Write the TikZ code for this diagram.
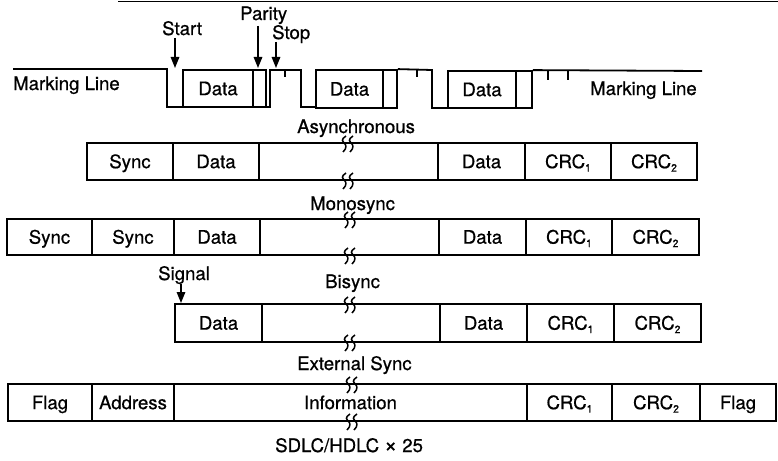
\documentclass[tikz,border=0pt]{standalone}
\usepackage{fontspec}
\setmainfont{TeX Gyre Heros}[FakeBold=0.7]
\usetikzlibrary{arrows.meta}
\newcommand\sub[1]{\raisebox{-0.35ex}{\fontsize{10.5}{10.5}\selectfont #1}}
\newcommand\cellnode[6]{%
  \pgfmathsetmacro\cwd{#3-#2}\pgfmathsetmacro\cht{#5-#4}%
  \node[cellbox,minimum width=\cwd pt,minimum height=\cht pt] (#1) at ({(#2+#3)/2},{(#4+#5)/2}) {#6};}
\tikzset{
  brk/.pic={
    \draw[line width=1.5pt] (-2,-7) .. controls (-7,-4) and (-6,-1) .. (-4,0) .. controls (-2,1) and (-0.5,5) .. (-5,9);
    \draw[line width=1.5pt] (5,-7) .. controls (0,-4) and (1,-1) .. (3,0) .. controls (5,1) and (6.5,5) .. (2,9);
  }
}
\begin{document}
\begin{tikzpicture}[x=1pt,y=-1pt,
  every node/.style={font=\fontsize{18.6}{20}\selectfont, inner sep=0pt},
  wave/.style={line width=1.8pt, line join=miter},
  cellbox/.style={draw, line width=1.8pt, text height=13.3pt, text depth=0pt},
  arr/.style={line width=1.5pt, -{Triangle[length=11pt,width=8.5pt]}},
  lbl/.style={anchor=base west}]
\useasboundingbox (0,0) rectangle (778,460);
% scan edge at top
\draw[line width=1.6pt] (118,1.5) -- (778,1.5);

% ---------- asynchronous waveform ----------
\draw[wave] (13,69) -- (167,69) -- (167,107) -- (270,107) -- (270,70) -- (301,70) -- (301,107) -- (316,107);
\cellnode{a1}{183}{253}{70}{107}{Data}
\cellnode{p1}{253}{266}{70}{107}{}
\draw[wave] (285,70) -- (285,77);
\cellnode{a2}{316}{383}{70}{108}{Data}
\cellnode{p2}{383}{397}{70}{108}{}
\draw[wave] (p2.north east) -- (432,70) -- (432,108) -- (448,108);
\draw[wave] (417,70) -- (417,77);
\cellnode{a3}{448}{516}{71}{108}{Data}
\cellnode{p3}{516}{532}{71}{108}{}
\draw[wave] (p3.north east) -- (702,71);
\draw[wave] (548,71) -- (548,80);
\draw[wave] (568,71) -- (568,80);

\node[lbl] (ml1) at (13,90) {Marking Line};
\node[lbl] (ml2) at (590,95) {Marking Line};
\node[lbl] (start) at (162,35) {Start};
\node[lbl] (parity) at (240,20) {Parity};
\node[lbl] (stop) at (272,39) {Stop};
\coordinate (startpt) at (175,68);
\coordinate (paritypt) at (258,68);
\coordinate (stoppt) at (276,68);
\draw[arr] (175,38) -- (startpt);
\draw[arr] (258,26) -- (paritypt);
\draw[arr] (276,42) -- (stoppt);
\node[lbl] (async) at (297,133) {Asynchronous};

% ---------- Monosync ----------
\cellnode{r1a}{87}{173}{143}{180}{Sync}
\cellnode{r1b}{173}{259}{143}{180}{Data}
\cellnode{r1c}{259}{438}{143}{180}{}
\cellnode{r1d}{438}{525}{143}{180}{Data}
\cellnode{r1e}{525}{611}{143}{180}{CRC\sub1}
\cellnode{r1f}{611}{697}{143}{180}{CRC\sub2}
\pic at (348,143) {brk};
\pic at (348,180) {brk};
\node[lbl] (mono) at (310,210) {Monosync};

% ---------- Bisync ----------
\cellnode{r2a}{7}{92}{219}{255}{Sync}
\cellnode{r2b}{92}{174}{219}{255}{Sync}
\cellnode{r2c}{174}{260}{219}{255}{Data}
\cellnode{r2d}{260}{439}{219}{255}{}
\cellnode{r2e}{439}{526}{219}{255}{Data}
\cellnode{r2f}{526}{612}{219}{255}{CRC\sub1}
\cellnode{r2g}{612}{699}{219}{255}{CRC\sub2}
\pic at (350,219) {brk};
\pic at (350,255) {brk};
\node[lbl] (bi) at (325,288) {Bisync};

% ---------- External Sync ----------
\node[lbl] (signal) at (158,280) {Signal};
\cellnode{r3a}{175}{262}{304}{342}{Data}
\cellnode{r3b}{262}{440}{304}{342}{}
\cellnode{r3c}{440}{527}{304}{342}{Data}
\cellnode{r3d}{527}{614}{304}{342}{CRC\sub1}
\cellnode{r3e}{614}{701}{304}{342}{CRC\sub2}
\coordinate (sigpt) at (181,303);
\draw[arr] (181,284) -- (sigpt);
\pic at (350,304) {brk};
\pic at (350,342) {brk};
\node[lbl] (ext) at (297,370) {External Sync};

% ---------- SDLC/HDLC ----------
\cellnode{r4a}{8}{92}{384}{421}{Flag}
\cellnode{r4b}{92}{174}{384}{421}{Address}
\cellnode{r4c}{174}{527}{384}{421}{Information}
\cellnode{r4d}{527}{612}{384}{421}{CRC\sub1}
\cellnode{r4e}{612}{700}{384}{421}{CRC\sub2}
\cellnode{r4f}{700}{776}{384}{421}{Flag}
\pic at (352,384) {brk};
\pic at (352,421) {brk};
\node[lbl] (sdlc) at (275,452) {SDLC/HDLC {\fontsize{22}{22}\selectfont ×} 25};
\end{tikzpicture}
\end{document}
